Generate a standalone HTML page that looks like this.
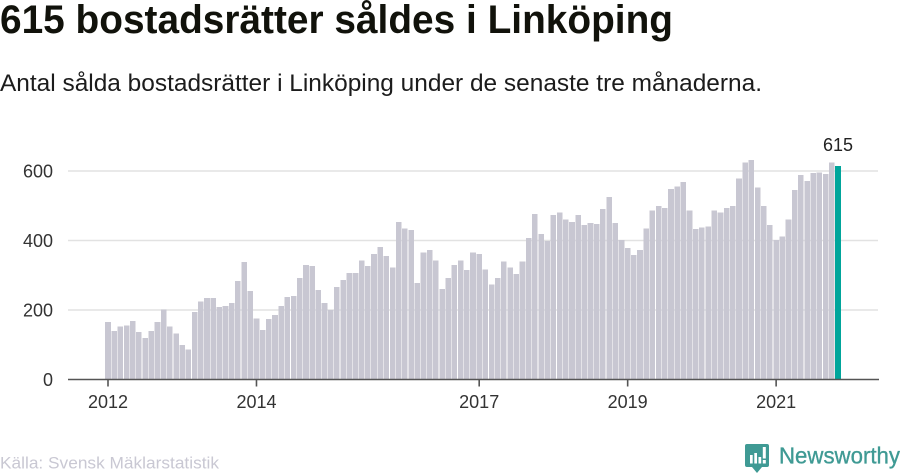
<!DOCTYPE html>
<html lang="sv">
<head>
<meta charset="utf-8">
<title>615 bostadsrätter såldes i Linköping</title>
<style>
html,body{margin:0;padding:0;background:#fff;width:900px;height:474px;overflow:hidden}
svg{display:block}
text{font-family:"Liberation Sans",sans-serif}
</style>
</head>
<body>
<svg id="chart" width="900" height="474" viewBox="0 0 900 474">
<text x="0" y="33" font-size="40" font-weight="700" fill="#11120b" textLength="673" lengthAdjust="spacingAndGlyphs">615 bostadsrätter såldes i Linköping</text>
<text x="0" y="91" font-size="24" fill="#1c1c1c" textLength="762" lengthAdjust="spacingAndGlyphs">Antal sålda bostadsrätter i Linköping under de senaste tre månaderna.</text>
<g id="grid"></g>
<g id="bars"></g>
<g id="axis"></g>
<text x="0" y="468.5" font-size="16.5" fill="#c9c8d3" textLength="219" lengthAdjust="spacingAndGlyphs">Källa: Svensk Mäklarstatistik</text>
<g>
<path d="M747 444h20a2 2 0 0 1 2 2v19a2 2 0 0 1-2 2h-5l-5 6-5-6h-5a2 2 0 0 1-2-2v-19a2 2 0 0 1 2-2z" fill="#3f9a94"/>
<g fill="#fff">
<rect x="750" y="455" width="2.7" height="8.5"/>
<rect x="754.3" y="453" width="2.7" height="10.5"/>
<rect x="758.5" y="457" width="2.7" height="6.5"/>
<rect x="762.8" y="447" width="3" height="11.5"/>
<rect x="762.8" y="460" width="3" height="3.5"/>
</g>
<text x="779" y="463.5" font-size="23" fill="#3f9a94" stroke="#3f9a94" stroke-width="0.35" textLength="121" lengthAdjust="spacingAndGlyphs">Newsworthy</text>
</g>
</svg>
<script>
const values = [
165,139,153,156,168,136,119,139,165,202,153,133,
99,87,194,225,234,234,208,211,220,283,338,254,
176,142,174,185,211,237,240,292,329,326,257,220,
200,266,286,306,306,343,326,361,381,355,323,453,
435,430,277,366,372,343,260,292,329,343,315,366,
361,317,274,292,340,323,303,340,407,476,418,399,
473,481,461,453,473,444,450,447,490,525,450,401,
378,358,372,435,487,499,493,548,556,568,487,433,
438,441,487,481,493,499,579,625,631,553,499,444,
401,412,461,545,588,571,594,596,591,625,615
];
const yTicks = [0,200,400,600];
const xTickLabels = ["2012","2014","2017","2019","2021"];
const xTickIndex = [0,24,60,84,108];

const NS = "http://www.w3.org/2000/svg";
const x0 = 108, step = 730 / 118, barW = 5.6;
const baseY = 379.5, pxPerUnit = 0.3475;
const xScale = i => x0 + step * i;
const yScale = v => baseY - v * pxPerUnit;
function make(tag, attrs, parent, txt){
  const el = document.createElementNS(NS, tag);
  for (const k in attrs) el.setAttribute(k, attrs[k]);
  if (txt !== undefined) el.textContent = txt;
  parent.appendChild(el);
  return el;
}
const grid = document.getElementById("grid");
const bars = document.getElementById("bars");
const axis = document.getElementById("axis");

yTicks.forEach(t => {
  if (t > 0) {
    const g = make("line", {x1:68, x2:878, y1:yScale(t), y2:yScale(t), stroke:"#e2e2e2", "stroke-width":1.5}, grid);
    
    
  }
  const l = make("text", {x:53, y:yScale(t)+6.5, "text-anchor":"end", "font-size":18, fill:"#333"}, axis, String(t));
  
  
});

values.forEach((v, i) => {
  const last = i === values.length - 1;
  const r = make("rect", {x:xScale(i)-barW/2, y:yScale(v), width:barW, height:baseY-yScale(v), fill:last?"#00a59b":"#c8c7d2", "shape-rendering":"crispEdges"}, bars);
  
  
  if (last) {
    const lab = make("text", {x:xScale(i), y:yScale(v)-15, "text-anchor":"middle", "font-size":18, fill:"#222"}, axis, String(v));
    
    
  }
});

const axisLine = make("line", {x1:68, x2:879, y1:baseY, y2:baseY, stroke:"#555", "stroke-width":1.6}, axis);



xTickLabels.forEach((t, n) => {
  const x = xScale(xTickIndex[n]);
  const tick = make("line", {x1:x, x2:x, y1:baseY, y2:baseY+7, stroke:"#555", "stroke-width":1.6}, axis);
  
  
  const lab = make("text", {x:x, y:408, "text-anchor":"middle", "font-size":18, fill:"#333"}, axis, t);
  
  
});
</script>
</body>
</html>
